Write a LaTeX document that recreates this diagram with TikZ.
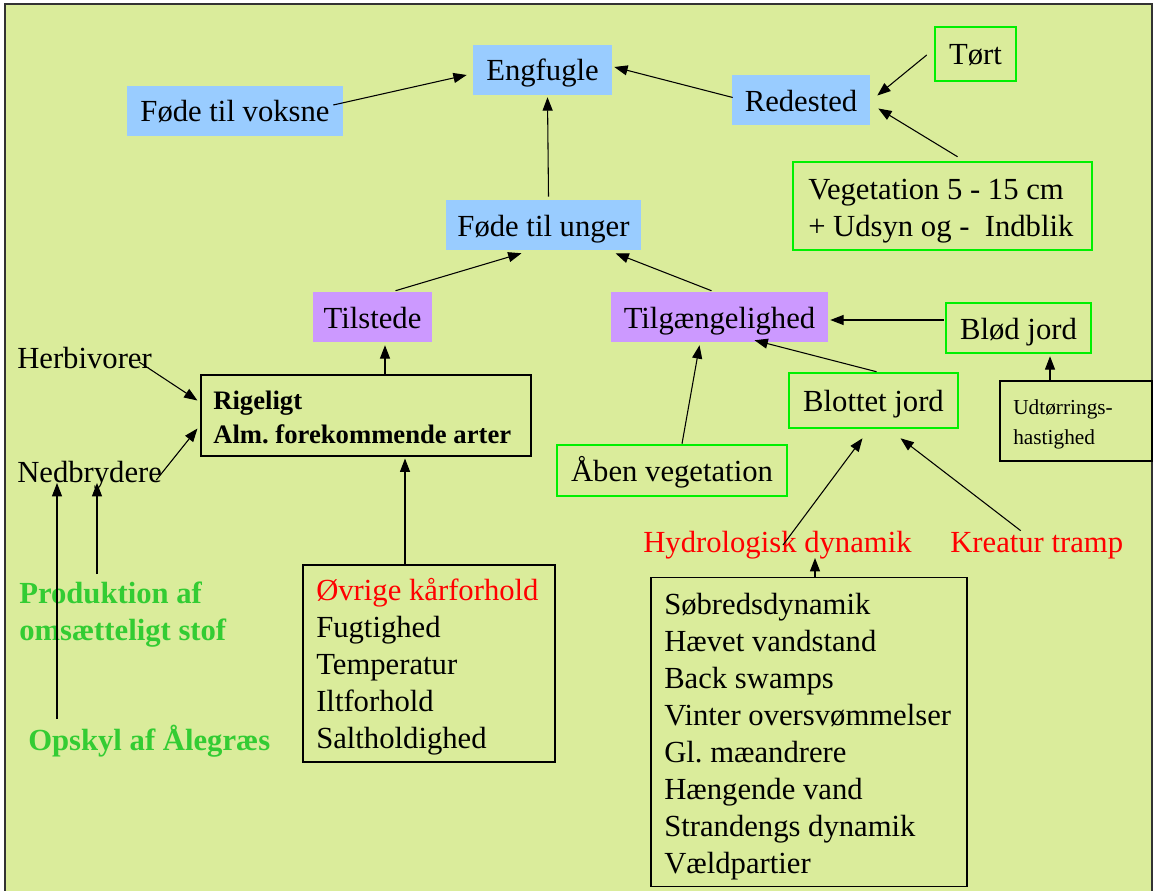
\documentclass[tikz,border=0pt]{standalone}
\usepackage{fontspec}
\setmainfont{Liberation Serif}
\usetikzlibrary{arrows.meta,calc}
\definecolor{bgc}{RGB}{218,236,155}
\definecolor{blueF}{RGB}{153,204,255}
\definecolor{purpF}{RGB}{204,153,255}
\definecolor{grnB}{RGB}{0,240,0}
\definecolor{grnT}{RGB}{51,204,51}
\definecolor{redT}{RGB}{255,0,0}
\begin{document}
\frenchspacing
\begin{tikzpicture}[x=0.75pt,y=-0.75pt,
  font=\fontsize{23}{27.75}\selectfont,
  arr/.style={-{Triangle[length=10pt,width=7.5pt]}, line width=0.8pt, black},
  one/.style={inner sep=0pt, minimum height=37.5pt, text height=16.5pt, text depth=0pt},
  bluebox/.style={one, fill=blueF},
  purpbox/.style={one, fill=purpF},
  grnbox/.style={one, draw=grnB, line width=1.9pt},
  blkbox/.style={draw=black, line width=0.8pt, inner sep=0pt},
  txt/.style={inner sep=0pt, anchor=north west, align=left},
  plain/.style={inner sep=0pt, anchor=base west},
  boldsmall/.style={font=\fontsize{20}{25.5}\selectfont\bfseries},
  greenbold/.style={font=\fontsize{23}{27.75}\selectfont\bfseries, text=grnT},
  redtxt/.style={text=redT}]
\useasboundingbox (0,0) rectangle (1155,891);
\fill[white] (0,0) rectangle (1155,891);
\fill[bgc] (5,4) rectangle (1152,891);
\draw[line width=1.5pt, black!80] (5,891) -- (5,4) -- (1152,4) -- (1152,891);

% boxes
\node[bluebox, minimum width=104.25pt] (eng) at (542.5,70) {Engfugle};
\node[bluebox, minimum width=162pt] (voksne) at (235,111) {Føde til voksne};
\node[bluebox, minimum width=103.5pt] (red) at (801,100.5) {Redested};
\node[grnbox, minimum width=60.75pt, minimum height=40.5pt] (tort) at (975.5,54) {Tørt};
\node[grnbox, minimum width=224.25pt, minimum height=66pt] (veg) at (942.5,206) {};
\node[txt] (vegt) at (808,173.5) {\strut Vegetation 5 - 15 cm\\+ Udsyn og -~ Indblik};
\node[bluebox, minimum width=146.25pt] (unger) at (543.5,225) {Føde til unger};
\node[purpbox, minimum width=89.25pt] (til) at (372.5,317) {Tilstede};
\node[purpbox, minimum width=162.75pt] (tilg) at (719.5,317) {Tilgængelighed};
\node[grnbox, minimum width=108.75pt] (blod) at (1018.5,328) {Blød jord};
\node[grnbox, minimum width=126.75pt, minimum height=41.25pt] (blot) at (873.5,400.5) {Blottet jord};
\node[blkbox, minimum width=114pt, minimum height=60pt] (udt) at (1076,421) {};
\node[txt, font=\fontsize{16}{22.5}\selectfont] (udtt) at (1013,393) {\strut Udtørrings-\\hastighed};
\node[blkbox, minimum width=247.5pt, minimum height=60.75pt] (rig) at (366,415.5) {};
\node[txt, boldsmall] (rigt) at (213,385) {\strut Rigeligt\\Alm. forekommende arter};
\node[grnbox, minimum width=172.5pt, minimum height=38.25pt] (aben) at (672,470.5) {Åben vegetation};
\node[blkbox, minimum width=237pt, minimum height=231.75pt] (list) at (809,732) {};
\node[txt] (listt) at (664,588.5) {\strut Søbredsdynamik\\Hævet vandstand\\Back swamps\\Vinter oversvømmelser\\Gl. mæandrere\\Hængende vand\\Strandengs dynamik\\Vældpartier};
\node[blkbox, minimum width=189pt, minimum height=147.75pt] (ovr) at (429,663.5) {};
\node[txt] (ovrt) at (316,574.5) {\strut\textcolor{redT}{Øvrige kårforhold}\\Fugtighed\\Temperatur\\Iltforhold\\Saltholdighed};

% plain texts
\node[plain] (herb) at (17,368) {Herbivorer};
\node[plain] (nedb) at (17,482) {Nedbrydere};
\node[txt, greenbold] (prod) at (19,577) {\strut Produktion af\\omsætteligt stof};
\node[plain, greenbold] (opskyl) at (28,750) {Opskyl af Ålegræs};
\node[plain, redtxt] (hydro) at (643,552) {Hydrologisk dynamik};
\node[plain, redtxt] (kreat) at (950,552) {Kreatur tramp};
\coordinate (opskA) at (57,719);
\coordinate (prodA) at (97,574);

% connectors
\draw[arr] ($(voksne.east)+(-10,-6)$) -- ($(eng.west)+(-6,5)$);
\draw[arr] ($(red.west)+(1,-3)$) -- ($(eng.east)+(2,-3)$);
\draw[arr] ($(unger.north)+(5,-3)$) -- ($(eng.south)+(5,2)$);
\draw[arr] ($(tort.west)+(-7,1)$) -- ($(red.east)+(7,-5)$);
\draw[arr] ($(veg.north)+(15,-4)$) -- ($(red.east)+(8,8)$);
\draw[arr] ($(til.north)+(23,-1)$) -- ($(unger.south)+(-22,3)$);
\draw[arr] ($(tilg.north)+(-8,-1)$) -- ($(unger.south)+(72,3)$);
\draw[arr] ($(rig.north)+(19,0)$) -- ($(til.south)+(12.5,3)$);
\draw[arr] ($(herb.base east)+(-13,-6)$) -- ($(rig.west)+(-3,-15)$);
\draw[arr] ($(nedb.base east)+(-6,-2)$) -- ($(rig.west)+(-3,13)$);
\draw[arr] ($(ovr.north)+(-24,0)$) -- ($(rig.south)+(39,2)$);
\draw[arr] (opskA) -- ($(nedb.base west)+(40,1)$);
\draw[arr] (prodA) -- ($(nedb.base west)+(80,1)$);
\draw[arr] ($(blod.west)+(-1,-8)$) -- ($(tilg.east)+(2,3)$);
\draw[arr] ($(udt.north)+(-26,0)$) -- ($(blod.south)+(31.5,2)$);
\draw[arr] ($(blot.north)+(3,0)$) -- ($(tilg.south)+(35,-2)$);
\draw[arr] ($(aben.north)+(10,0)$) -- ($(tilg.south)+(-20,3)$);
\draw[arr] ($(hydro.base west)+(140,-7)$) -- ($(blot.south)+(-11,9)$);
\draw[arr] ($(kreat.north)+(-16,-1)$) -- ($(blot.south)+(27,9)$);
\draw[arr] ($(list.north)+(6,0)$) -- ($(hydro.base west)+(172,6)$);
\end{tikzpicture}
\end{document}
